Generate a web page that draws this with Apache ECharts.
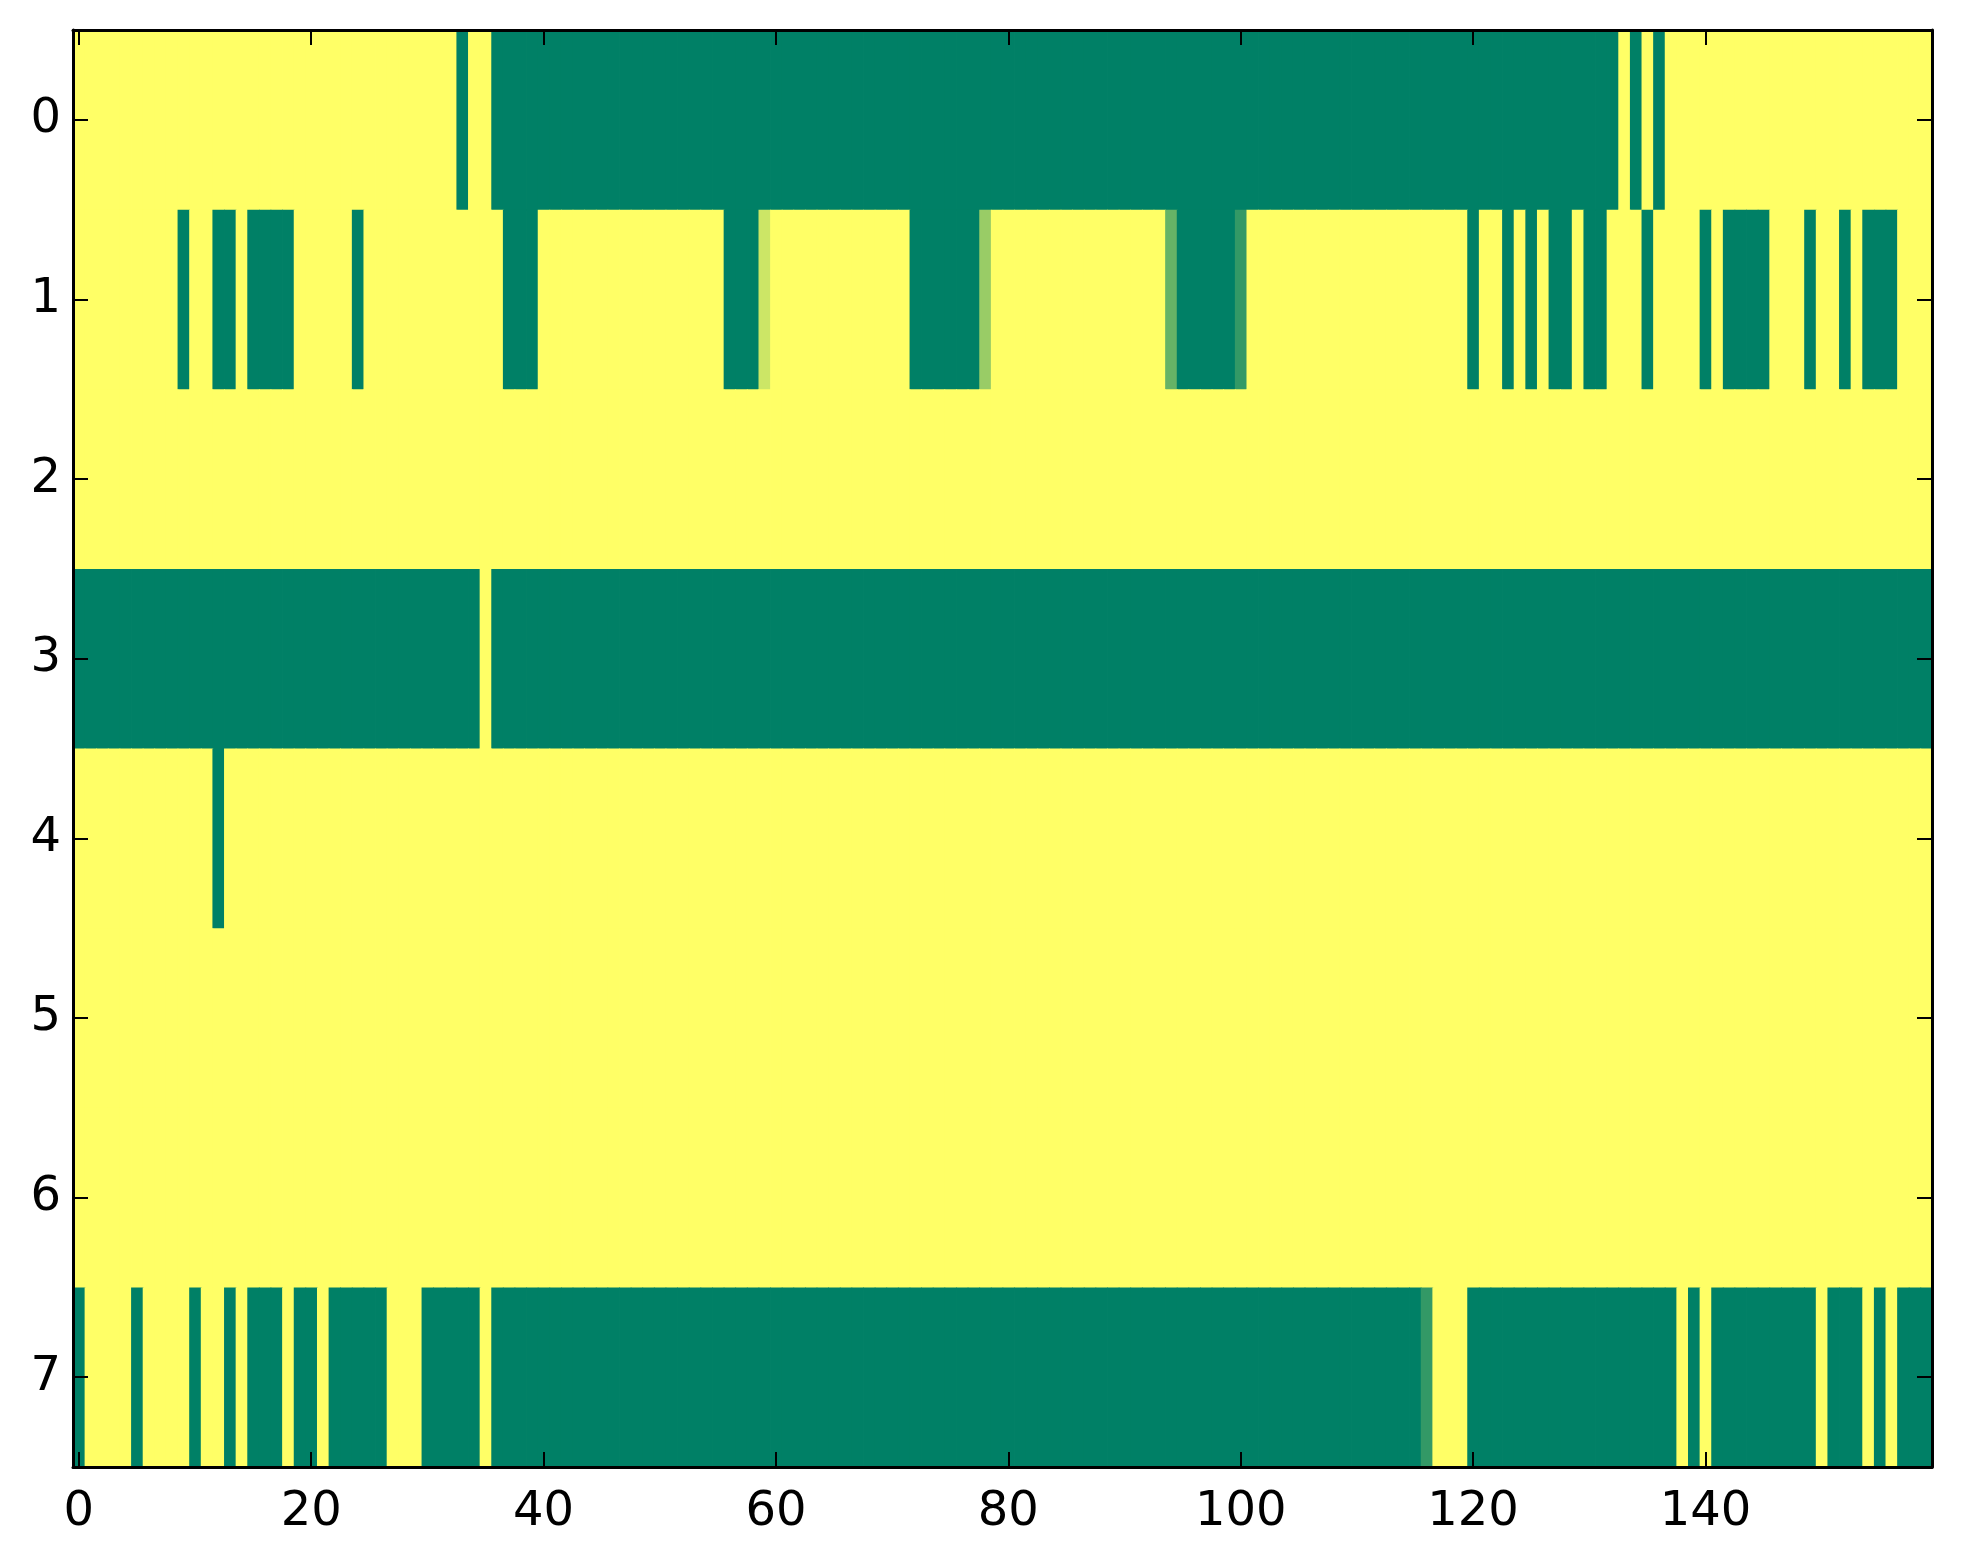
<!DOCTYPE html>
<html>
<head>
<meta charset="utf-8">
<script src="https://cdn.jsdelivr.net/npm/echarts@6/dist/echarts.min.js"></script>
<style>
html,body{margin:0;padding:0;background:#fff;}
#chart{width:1963px;height:1564px;}
</style>
</head>
<body>
<div id="chart"></div>
<script>
// Column categories (0..159) and row categories (0..7)
const xCategories = Array.from({length: 160}, (_, i) => String(i));
const yCategories = ['0','1','2','3','4','5','6','7'];
const xTickStep = 20;

// Cell values per row (0 = green, 1 = yellow, summer colormap)
const row0 = [
  1,1,1,1,1,1,1,1,1,1,
  1,1,1,1,1,1,1,1,1,1,
  1,1,1,1,1,1,1,1,1,1,
  1,1,1,0,1,1,0,0,0,0,
  0,0,0,0,0,0,0,0,0,0,
  0,0,0,0,0,0,0,0,0,0,
  0,0,0,0,0,0,0,0,0,0,
  0,0,0,0,0,0,0,0,0,0,
  0,0,0,0,0,0,0,0,0,0,
  0,0,0,0,0,0,0,0,0,0,
  0,0,0,0,0,0,0,0,0,0,
  0,0,0,0,0,0,0,0,0,0,
  0,0,0,0,0,0,0,0,0,0,
  0,0,0,1,0,1,0,1,1,1,
  1,1,1,1,1,1,1,1,1,1,
  1,1,1,1,1,1,1,1,1,1
];
const row1 = [
  1,1,1,1,1,1,1,1,1,0,
  1,1,0,0,1,0,0,0,0,1,
  1,1,1,1,0,1,1,1,1,1,
  1,1,1,1,1,1,1,0,0,0,
  1,1,1,1,1,1,1,1,1,1,
  1,1,1,1,1,1,0,0,0,0.8,
  1,1,1,1,1,1,1,1,1,1,
  1,1,0,0,0,0,0,0,0.6,1,
  1,1,1,1,1,1,1,1,1,1,
  1,1,1,1,0.4,0,0,0,0,0,
  0.2,1,1,1,1,1,1,1,1,1,
  1,1,1,1,1,1,1,1,1,1,
  0,1,1,0,1,0,1,0,0,1,
  0,0,1,1,1,0,1,1,1,1,
  0,1,0,0,0,0,1,1,1,0,
  1,1,0,1,0,0,0,1,1,1
];
const row2 = [
  1,1,1,1,1,1,1,1,1,1, 1,1,1,1,1,1,1,1,1,1,
  1,1,1,1,1,1,1,1,1,1, 1,1,1,1,1,1,1,1,1,1,
  1,1,1,1,1,1,1,1,1,1, 1,1,1,1,1,1,1,1,1,1,
  1,1,1,1,1,1,1,1,1,1, 1,1,1,1,1,1,1,1,1,1,
  1,1,1,1,1,1,1,1,1,1, 1,1,1,1,1,1,1,1,1,1,
  1,1,1,1,1,1,1,1,1,1, 1,1,1,1,1,1,1,1,1,1,
  1,1,1,1,1,1,1,1,1,1, 1,1,1,1,1,1,1,1,1,1,
  1,1,1,1,1,1,1,1,1,1, 1,1,1,1,1,1,1,1,1,1
];
const row3 = [
  0,0,0,0,0,0,0,0,0,0, 0,0,0,0,0,0,0,0,0,0,
  0,0,0,0,0,0,0,0,0,0, 0,0,0,0,0,1,0,0,0,0,
  0,0,0,0,0,0,0,0,0,0, 0,0,0,0,0,0,0,0,0,0,
  0,0,0,0,0,0,0,0,0,0, 0,0,0,0,0,0,0,0,0,0,
  0,0,0,0,0,0,0,0,0,0, 0,0,0,0,0,0,0,0,0,0,
  0,0,0,0,0,0,0,0,0,0, 0,0,0,0,0,0,0,0,0,0,
  0,0,0,0,0,0,0,0,0,0, 0,0,0,0,0,0,0,0,0,0,
  0,0,0,0,0,0,0,0,0,0, 0,0,0,0,0,0,0,0,0,0
];
const row4 = [
  1,1,1,1,1,1,1,1,1,1, 1,1,0,1,1,1,1,1,1,1,
  1,1,1,1,1,1,1,1,1,1, 1,1,1,1,1,1,1,1,1,1,
  1,1,1,1,1,1,1,1,1,1, 1,1,1,1,1,1,1,1,1,1,
  1,1,1,1,1,1,1,1,1,1, 1,1,1,1,1,1,1,1,1,1,
  1,1,1,1,1,1,1,1,1,1, 1,1,1,1,1,1,1,1,1,1,
  1,1,1,1,1,1,1,1,1,1, 1,1,1,1,1,1,1,1,1,1,
  1,1,1,1,1,1,1,1,1,1, 1,1,1,1,1,1,1,1,1,1,
  1,1,1,1,1,1,1,1,1,1, 1,1,1,1,1,1,1,1,1,1
];
const row5 = [
  1,1,1,1,1,1,1,1,1,1, 1,1,1,1,1,1,1,1,1,1,
  1,1,1,1,1,1,1,1,1,1, 1,1,1,1,1,1,1,1,1,1,
  1,1,1,1,1,1,1,1,1,1, 1,1,1,1,1,1,1,1,1,1,
  1,1,1,1,1,1,1,1,1,1, 1,1,1,1,1,1,1,1,1,1,
  1,1,1,1,1,1,1,1,1,1, 1,1,1,1,1,1,1,1,1,1,
  1,1,1,1,1,1,1,1,1,1, 1,1,1,1,1,1,1,1,1,1,
  1,1,1,1,1,1,1,1,1,1, 1,1,1,1,1,1,1,1,1,1,
  1,1,1,1,1,1,1,1,1,1, 1,1,1,1,1,1,1,1,1,1
];
const row6 = [
  1,1,1,1,1,1,1,1,1,1, 1,1,1,1,1,1,1,1,1,1,
  1,1,1,1,1,1,1,1,1,1, 1,1,1,1,1,1,1,1,1,1,
  1,1,1,1,1,1,1,1,1,1, 1,1,1,1,1,1,1,1,1,1,
  1,1,1,1,1,1,1,1,1,1, 1,1,1,1,1,1,1,1,1,1,
  1,1,1,1,1,1,1,1,1,1, 1,1,1,1,1,1,1,1,1,1,
  1,1,1,1,1,1,1,1,1,1, 1,1,1,1,1,1,1,1,1,1,
  1,1,1,1,1,1,1,1,1,1, 1,1,1,1,1,1,1,1,1,1,
  1,1,1,1,1,1,1,1,1,1, 1,1,1,1,1,1,1,1,1,1
];
const row7 = [
  0,1,1,1,1,0,1,1,1,1,
  0,1,1,0,1,0,0,0,1,0,
  0,1,0,0,0,0,0,1,1,1,
  0,0,0,0,0,1,0,0,0,0,
  0,0,0,0,0,0,0,0,0,0,
  0,0,0,0,0,0,0,0,0,0,
  0,0,0,0,0,0,0,0,0,0,
  0,0,0,0,0,0,0,0,0,0,
  0,0,0,0,0,0,0,0,0,0,
  0,0,0,0,0,0,0,0,0,0,
  0,0,0,0,0,0,0,0,0,0,
  0,0,0,0,0,0,0.2,1,1,1,
  0,0,0,0,0,0,0,0,0,0,
  0,0,0,0,0,0,0,0,1,0,
  1,0,0,0,0,0,0,0,0,0,
  1,0,0,0,1,0,1,0,0,0
];
const rows = [row0, row1, row2, row3, row4, row5, row6, row7];

const heatData = [];
rows.forEach((r, y) => r.forEach((v, x) => heatData.push([x, y, v])));

const FONT = 'DejaVu Sans';
const tickShow = (i) => i % xTickStep === 0;
const lineStyle = {color: '#000', width: 3};
const tickStyle = {color: '#000', width: 2};

function renderCell(params, api) {
  const c = api.coord([api.value(0), api.value(1)]);
  const s = api.size([1, 1]);
  return {
    type: 'rect',
    shape: {x: c[0] - s[0] / 2, y: c[1] - s[1] / 2, width: s[0] + 0.8, height: s[1] + 0.8},
    style: {fill: api.visual('color')}
  };
}

const chart = echarts.init(document.getElementById('chart'), null, {renderer: 'canvas'});
chart.setOption({
  animation: false,
  backgroundColor: '#fff',
  grid: {left: 73, right: 31, top: 30, bottom: 97, containLabel: false},
  visualMap: {
    show: false, type: 'continuous', min: 0, max: 1, dimension: 2, seriesIndex: 0,
    inRange: {color: ['#008066', '#ffff66']}
  },
  xAxis: [
    {
      type: 'category', data: xCategories, position: 'bottom', boundaryGap: true, z: 10,
      axisLine: {show: true, lineStyle: lineStyle},
      axisTick: {show: true, inside: true, length: 15, alignWithLabel: true, interval: tickShow, lineStyle: tickStyle},
      axisLabel: {show: true, interval: tickShow, color: '#000', fontSize: 48, fontFamily: FONT, margin: 22},
      splitLine: {show: false}
    },
    {
      type: 'category', data: xCategories, position: 'top', boundaryGap: true, z: 10,
      axisLine: {show: true, lineStyle: lineStyle},
      axisTick: {show: true, inside: true, length: 15, alignWithLabel: true, interval: tickShow, lineStyle: tickStyle},
      axisLabel: {show: false},
      splitLine: {show: false}
    }
  ],
  yAxis: [
    {
      type: 'category', data: yCategories, position: 'left', inverse: true, boundaryGap: true, z: 10,
      axisLine: {show: true, lineStyle: lineStyle},
      axisTick: {show: true, inside: true, length: 15, alignWithLabel: true, lineStyle: tickStyle},
      axisLabel: {show: true, color: '#000', fontSize: 48, fontFamily: FONT, margin: 12},
      splitLine: {show: false}
    },
    {
      type: 'category', data: yCategories, position: 'right', inverse: true, boundaryGap: true, z: 10,
      axisLine: {show: true, lineStyle: lineStyle},
      axisTick: {show: true, inside: true, length: 15, alignWithLabel: true, lineStyle: tickStyle},
      axisLabel: {show: false},
      splitLine: {show: false}
    }
  ],
  series: [{
    type: 'custom',
    xAxisIndex: 0, yAxisIndex: 0,
    renderItem: renderCell,
    clip: true,
    encode: {x: 0, y: 1},
    data: heatData,
    emphasis: {disabled: true}
  }]
});
</script>
</body>
</html>
